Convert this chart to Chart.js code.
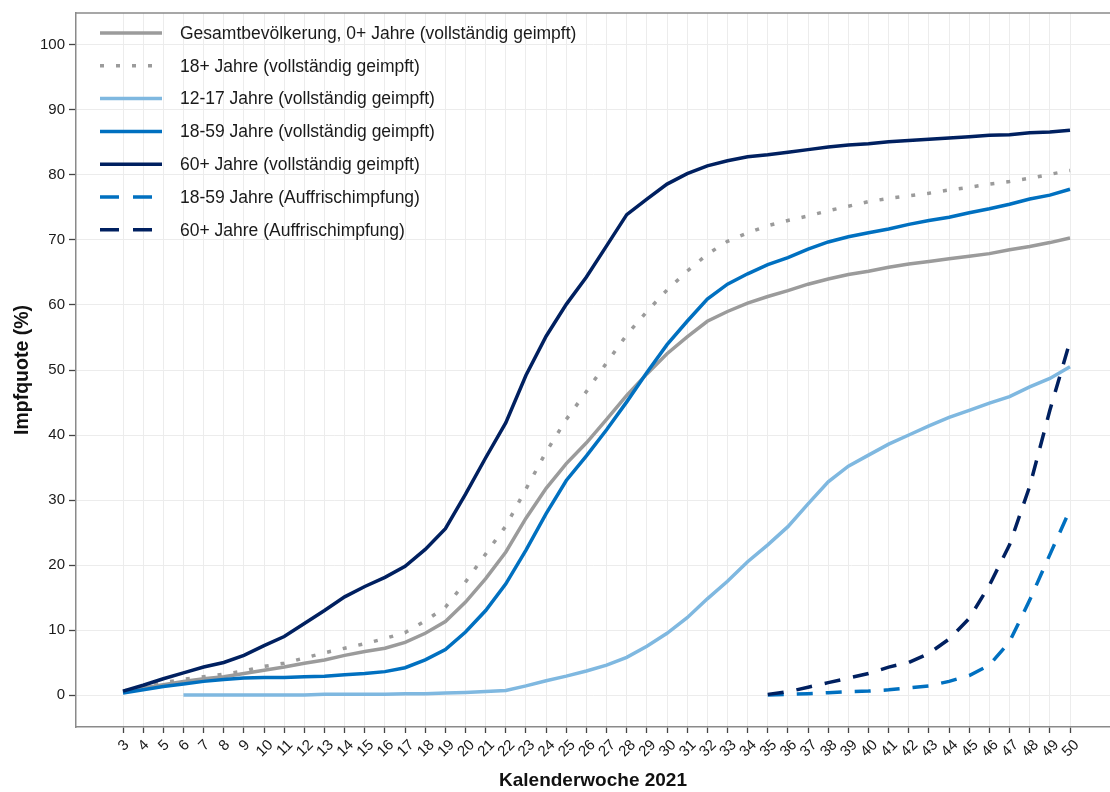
<!DOCTYPE html>
<html lang="de">
<head>
<meta charset="utf-8">
<title>Impfquote nach Kalenderwoche 2021</title>
<script src="https://cdn.jsdelivr.net/npm/chart.js@4.4.1/dist/chart.umd.min.js"></script>
<style>
  html, body { margin: 0; padding: 0; background: #fff; overflow: hidden; }
  #wrap { position: relative; width: 1110px; height: 792px; }
</style>
</head>
<body>
<div id="wrap"><canvas id="impfChart"></canvas></div>
<script>
// Kalenderwochen (x-Achse)
const weeks = [3, 4, 5, 6, 7, 8, 9, 10, 11, 12, 13, 14, 15, 16, 17, 18, 19, 20, 21, 22, 23, 24, 25, 26,
               27, 28, 29, 30, 31, 32, 33, 34, 35, 36, 37, 38, 39, 40, 41, 42, 43, 44, 45, 46, 47, 48, 49, 50];
const yTicks = [0, 10, 20, 30, 40, 50, 60, 70, 80, 90, 100];

// Impfquoten in %, eine Zahl pro Woche (null = keine Daten)
const gesamt = [0.5, 1.1, 1.6, 2.1, 2.5, 2.8, 3.3, 3.8, 4.3, 4.9,
                5.4, 6.1, 6.7, 7.2, 8.1, 9.5, 11.3, 14.3, 17.9, 22.0,
                27.2, 31.8, 35.6, 38.8, 42.4, 46.1, 49.4, 52.5, 55.1, 57.5,
                59.0, 60.3, 61.3, 62.2, 63.2, 64.0, 64.7, 65.2, 65.8, 66.3,
                66.7, 67.1, 67.5, 67.9, 68.5, 69.0, 69.6, 70.3];
const ab18 = [0.6, 1.3, 1.9, 2.4, 2.8, 3.2, 3.7, 4.4, 4.9, 5.7,
              6.5, 7.2, 7.9, 8.7, 9.6, 11.4, 13.5, 17.4, 21.7, 26.0,
              31.7, 37.4, 42.4, 46.7, 51.1, 55.4, 59.0, 62.3, 65.2, 67.8,
              69.8, 71.1, 72.2, 73.0, 73.7, 74.5, 75.2, 75.9, 76.4, 76.8,
              77.2, 77.7, 78.1, 78.6, 79.0, 79.5, 80.1, 80.7];
const j12_17 = [null, null, null, 0, 0, 0, 0, 0, 0, 0,
                0.1, 0.1, 0.1, 0.1, 0.2, 0.2, 0.3, 0.4, 0.55, 0.7,
                1.4, 2.2, 2.9, 3.7, 4.6, 5.8, 7.5, 9.5, 11.9, 14.8,
                17.5, 20.5, 23.1, 25.9, 29.4, 32.8, 35.2, 36.9, 38.6, 40.0,
                41.4, 42.7, 43.8, 44.9, 45.9, 47.4, 48.7, 50.5];
const j18_59 = [0.3, 0.8, 1.3, 1.7, 2.1, 2.4, 2.6, 2.7, 2.7, 2.8,
                2.9, 3.1, 3.3, 3.6, 4.2, 5.4, 7.0, 9.7, 13.0, 17.1,
                22.3, 27.9, 33.0, 36.8, 40.8, 45.1, 49.6, 53.9, 57.5, 60.9,
                63.2, 64.8, 66.2, 67.3, 68.6, 69.7, 70.5, 71.1, 71.7, 72.4,
                73.0, 73.5, 74.2, 74.8, 75.5, 76.3, 76.9, 77.8];
const ab60 = [0.6, 1.5, 2.5, 3.4, 4.3, 5.0, 6.1, 7.6, 9.0, 11.0,
              13.0, 15.1, 16.7, 18.1, 19.8, 22.4, 25.6, 30.9, 36.5, 41.9,
              49.2, 55.2, 60.1, 64.3, 69.1, 73.9, 76.3, 78.6, 80.2, 81.4,
              82.2, 82.8, 83.1, 83.5, 83.9, 84.3, 84.6, 84.8, 85.1, 85.3,
              85.5, 85.7, 85.9, 86.1, 86.2, 86.5, 86.6, 86.9];
const booster18_59 = [null, null, null, null, null, null, null, null, null, null,
                      null, null, null, null, null, null, null, null, null, null,
                      null, null, null, null, null, null, null, null, null, null,
                      null, null, 0.0, 0.1, 0.2, 0.35, 0.5, 0.6, 0.8, 1.1,
                      1.4, 2.1, 3.0, 4.6, 8.2, 14.6, 21.6, 28.5];
const booster60 = [null, null, null, null, null, null, null, null, null, null,
                   null, null, null, null, null, null, null, null, null, null,
                   null, null, null, null, null, null, null, null, null, null,
                   null, null, 0.1, 0.5, 1.2, 1.9, 2.6, 3.3, 4.3, 5.0,
                   6.4, 8.6, 11.8, 16.9, 23.1, 32.1, 43.8, 54.4];

const FONT = "'Liberation Sans', Arial, sans-serif";

document.addEventListener("DOMContentLoaded", () => {
    const toPoints = (arr) => weeks.map((w, i) => ({ x: w, y: arr[i] }));

    const series = [
        { label: 'Gesamtbevölkerung, 0+ Jahre (vollständig geimpft)', data: gesamt,       color: '#9b9b9b', dash: [] },
        { label: '18+ Jahre (vollständig geimpft)',                  data: ab18,         color: '#9b9b9b', dash: [4, 12] },
        { label: '12-17 Jahre (vollständig geimpft)',                data: j12_17,       color: '#7fb8e0', dash: [] },
        { label: '18-59 Jahre (vollständig geimpft)',                data: j18_59,       color: '#0070c0', dash: [] },
        { label: '60+ Jahre (vollständig geimpft)',                  data: ab60,         color: '#002060', dash: [] },
        { label: '18-59 Jahre (Auffrischimpfung)',                   data: booster18_59, color: '#0070c0', dash: [16, 13] },
        { label: '60+ Jahre (Auffrischimpfung)',                     data: booster60,    color: '#002060', dash: [16, 13] },
    ];

    // Legende, x-Beschriftung und obere Rahmenlinie selbst zeichnen
    const extrasPlugin = {
        id: 'extras',
        beforeDatasetsDraw(chart) {
            const { ctx, chartArea } = chart;
            ctx.save();
            ctx.strokeStyle = '#8a8a8a';
            ctx.lineWidth = 1.5;
            ctx.beginPath();
            ctx.moveTo(chartArea.left, chartArea.top);
            ctx.lineTo(chartArea.right, chartArea.top);
            ctx.stroke();
            ctx.restore();
        },
        afterDraw(chart) {
            const { ctx } = chart;
            const xScale = chart.scales.x;

            // gedrehte Wochen-Labels, mittig unter dem Tick
            ctx.save();
            ctx.font = `15px ${FONT}`;
            ctx.fillStyle = '#1a1a1a';
            ctx.textAlign = 'center';
            ctx.textBaseline = 'middle';
            weeks.forEach((w) => {
                const label = String(w);
                const tw = ctx.measureText(label).width;
                const half = (tw + 11) * Math.SQRT1_2 / 2;
                const px = xScale.getPixelForValue(w);
                ctx.save();
                ctx.translate(px, xScale.top + 11 + half);
                ctx.rotate(-Math.PI / 4);
                ctx.fillText(label, 0, 1);
                ctx.restore();
            });
            ctx.restore();

            // Legende oben links im Plotbereich
            ctx.save();
            ctx.font = `17.5px ${FONT}`;
            ctx.textAlign = 'left';
            ctx.textBaseline = 'middle';
            chart.data.datasets.forEach((ds, i) => {
                const y = 33 + i * 32.8;
                ctx.strokeStyle = ds.borderColor;
                ctx.lineWidth = ds.borderWidth;
                ctx.lineCap = 'butt';
                ctx.setLineDash(ds.borderDash.length === 2 && ds.borderDash[0] > 10 ? [19, 14] : ds.borderDash);
                ctx.beginPath();
                ctx.moveTo(100, y);
                ctx.lineTo(ds.borderDash.length ? 153 : 162, y);
                ctx.stroke();
                ctx.setLineDash([]);
                ctx.fillStyle = '#1a1a1a';
                ctx.fillText(ds.label, 180, y + 1);
            });
            ctx.restore();
        }
    };

    const ctx = document.getElementById('impfChart').getContext('2d');

    new Chart(ctx, {
        type: 'line',
        data: {
            datasets: series.map((s, i) => ({
                label: s.label,
                data: toPoints(s.data),
                borderColor: s.color,
                backgroundColor: s.color,
                borderWidth: 3.5,
                borderDash: s.dash,
                borderCapStyle: 'butt',
                pointRadius: 0,
                tension: 0,
                fill: false,
                spanGaps: false,
                order: series.length - i,   // spätere Reihen oben
            })),
        },
        options: {
            responsive: true,
            maintainAspectRatio: false,
            animation: false,
            layout: { padding: { top: 12, right: 0, left: 0, bottom: 0 } },
            plugins: {
                legend: { display: false },
                tooltip: { enabled: false },
            },
            scales: {
                x: {
                    type: 'linear',
                    min: 0.667,
                    max: 51.985,
                    afterBuildTicks: (scale) => { scale.ticks = weeks.map(v => ({ value: v })); },
                    afterFit: (scale) => { scale.height = 65; },
                    ticks: { display: false },
                    grid: {
                        color: '#ececec',
                        lineWidth: 1,
                        tickLength: 6,
                        tickColor: '#444',
                        tickWidth: 1.3,
                    },
                    border: { color: '#8a8a8a', width: 1.5 },
                    title: {
                        display: true,
                        text: 'Kalenderwoche 2021',
                        color: '#111',
                        font: { family: FONT, size: 19, weight: 'bold' },
                        padding: { top: 0, bottom: 0 },
                    },
                },
                y: {
                    min: -4.92,
                    max: 104.92,
                    afterBuildTicks: (scale) => { scale.ticks = yTicks.map(v => ({ value: v })); },
                    afterFit: (scale) => { scale.width = 76; },
                    ticks: {
                        color: '#1a1a1a',
                        font: { family: FONT, size: 15 },
                        padding: 4,
                    },
                    grid: {
                        color: '#ececec',
                        lineWidth: 1,
                        tickLength: 7,
                        tickColor: '#444',
                        tickWidth: 1.3,
                    },
                    border: { color: '#8a8a8a', width: 1.5 },
                    title: {
                        display: true,
                        text: 'Impfquote (%)',
                        color: '#111',
                        font: { family: FONT, size: 19.5, weight: 'bold' },
                        padding: { top: 11, bottom: 0 },
                    },
                },
            },
        },
        plugins: [extrasPlugin],
    });
});
</script>
</body>
</html>
